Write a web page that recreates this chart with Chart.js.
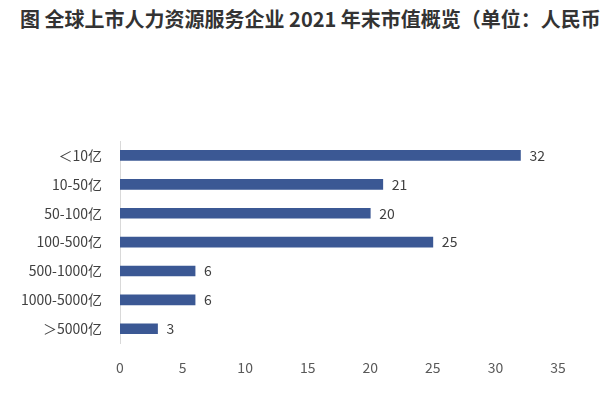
<!DOCTYPE html>
<html><head><meta charset="utf-8">
<script src="https://cdn.jsdelivr.net/npm/chart.js@4"></script>
<style>
body{margin:0;width:600px;height:400px;overflow:hidden;background:#fff;position:relative;font-family:"Noto Sans CJK SC",sans-serif}
#t{position:absolute;left:20px;top:4px;white-space:nowrap;font-size:20px;font-weight:bold;color:#333}
#c{position:absolute;left:0;top:0}
</style></head><body>
<div id="t">图 全球上市人力资源服务企业 2021 年末市值概览（单位：人民币）</div>
<canvas id="c" width="600" height="400"></canvas>
<script>
const categories=["＜10亿","10-50亿","50-100亿","100-500亿","500-1000亿","1000-5000亿","＞5000亿"];
const values=[32,21,20,25,6,6,3];
const xTicks=[0,5,10,15,20,25,30,35];
const labelPlugin={id:'lbl',afterDatasetsDraw(ch){const c=ch.ctx;const m=ch.getDatasetMeta(0);c.save();c.font='14px "Noto Sans CJK SC"';c.fillStyle='#404040';c.textBaseline='middle';m.data.forEach((b,i)=>c.fillText(values[i],b.x+9,b.y));c.restore();}};
new Chart(document.getElementById('c'),{type:'bar',
data:{labels:categories,datasets:[{data:values,backgroundColor:'#3b5894',barThickness:10}]},
options:{indexAxis:'y',responsive:false,animation:false,
layout:{padding:{top:141,right:42,bottom:16,left:0}},
plugins:{legend:{display:false},tooltip:{enabled:false}},
scales:{x:{min:0,max:35,afterBuildTicks(s){s.ticks=xTicks.map(v=>({value:v}))},grid:{display:false},border:{display:false},ticks:{color:'#595959',font:{size:14,family:'Noto Sans CJK SC'},padding:8}},
y:{afterFit(s){s.width=120},grid:{display:false},border:{display:true,color:'#d9d9d9'},ticks:{color:'#404040',font:{size:14,family:'Noto Sans CJK SC'},padding:10}}}},
plugins:[labelPlugin]});
</script></body></html>
